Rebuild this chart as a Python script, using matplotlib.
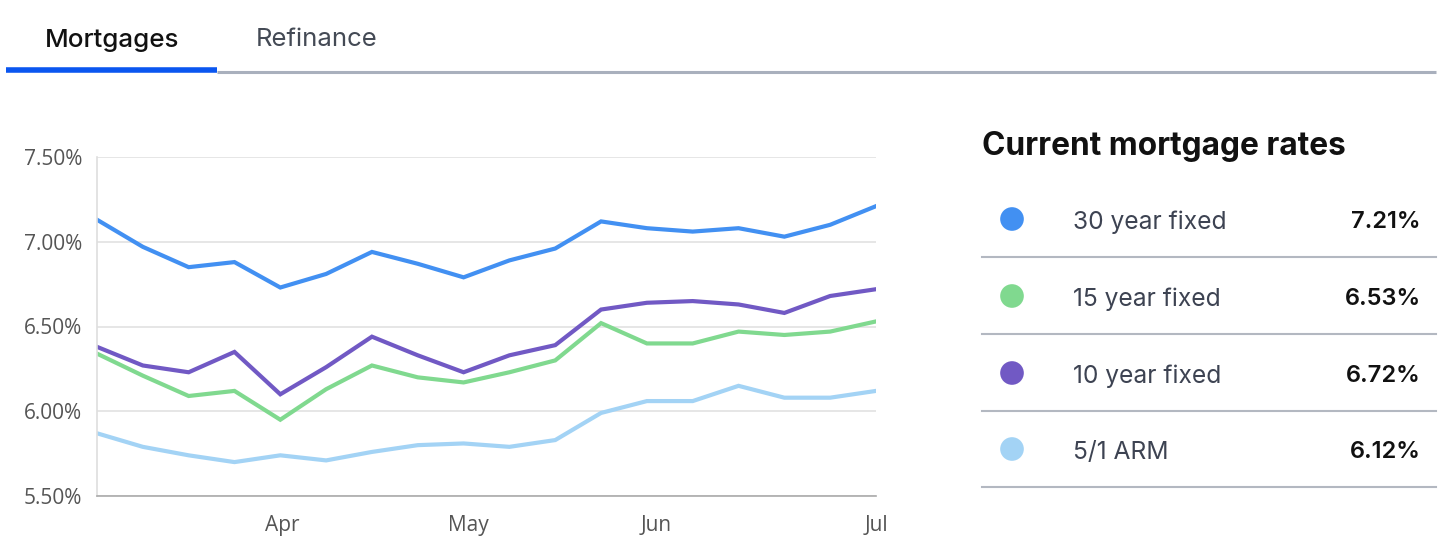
import matplotlib.pyplot as plt
import numpy as np

# Weekly rates (percent)
weeks = np.arange(18)
rate_30yr = [7.13, 6.97, 6.85, 6.88, 6.73, 6.81, 6.94, 6.87, 6.79, 6.89, 6.96, 7.12, 7.08, 7.06, 7.08, 7.03, 7.10, 7.21]
rate_15yr = [6.34, 6.21, 6.09, 6.12, 5.95, 6.13, 6.27, 6.20, 6.17, 6.23, 6.30, 6.52, 6.40, 6.40, 6.47, 6.45, 6.47, 6.53]
rate_10yr = [6.38, 6.27, 6.23, 6.35, 6.10, 6.26, 6.44, 6.33, 6.23, 6.33, 6.39, 6.60, 6.64, 6.65, 6.63, 6.58, 6.68, 6.72]
rate_arm = [5.87, 5.79, 5.74, 5.70, 5.74, 5.71, 5.76, 5.80, 5.81, 5.79, 5.83, 5.99, 6.06, 6.06, 6.15, 6.08, 6.08, 6.12]

month_ticks = [4.05, 8.1, 12.2, 17]
month_labels = ['Apr', 'May', 'Jun', 'Jul']
y_ticks = [5.5, 6.0, 6.5, 7.0, 7.5]

series_names = ['30 year fixed', '15 year fixed', '10 year fixed', '5/1 ARM']
current_rates = ['7.21%', '6.53%', '6.72%', '6.12%']
colors = ['#4290f2', '#80d98f', '#7159c4', '#a3d3f5']

fig = plt.figure(figsize=(14.56, 5.6), dpi=100)

# Line chart
ax = fig.add_axes([97 / 1456, 1 - 496 / 560, (876 - 97) / 1456, (496 - 157) / 560])
for vals, c in zip([rate_30yr, rate_15yr, rate_10yr, rate_arm], colors):
    ax.plot(weeks, vals, color=c, lw=3, solid_joinstyle='miter')

ax.set_xlim(0, 17)
ax.set_ylim(5.5, 7.5)
ax.set_yticks(y_ticks)
ax.set_yticklabels([f'{v:.2f}%' for v in y_ticks])
ax.set_xticks(month_ticks)
ax.set_xticklabels(month_labels)
ax.grid(axis='y', color='#e2e2e2', lw=1.2)
ax.set_axisbelow(True)
for side in ['top', 'right']:
    ax.spines[side].set_visible(False)
ax.spines['left'].set_color('#dedede')
ax.spines['bottom'].set_color('#aaaaaa')
ax.spines['left'].set_linewidth(1.2)
ax.spines['bottom'].set_linewidth(1.2)
ax.tick_params(length=0, colors='#555555')
ax.tick_params(axis='y', pad=10.5)
ax.tick_params(axis='x', pad=14)
for lab in ax.get_xticklabels() + ax.get_yticklabels():
    lab.set_family('Open Sans')
    lab.set_fontsize(15)

# Overlay in pixel coordinates for tabs and the rates panel
ov = fig.add_axes([0, 0, 1, 1])
ov.set_xlim(0, 1456)
ov.set_ylim(560, 0)
ov.axis('off')

ov.text(112, 40, 'Mortgages', ha='center', va='center', fontsize=18.7,
        family='Inter', weight='medium', color='#111111')
ov.text(317, 40, 'Refinance', ha='center', va='center', fontsize=18.5,
        family='Inter', color='#444a55')
ov.plot([217, 1436], [71.5, 71.5], color='#a9b0bd', lw=2.2, solid_capstyle='butt')
ov.plot([6, 217], [70, 70], color='#0a56f0', lw=4, solid_capstyle='butt')

ov.text(982, 146, 'Current mortgage rates', ha='left', va='center', fontsize=22.8,
        family='Inter', weight='bold', color='#111111')

row_y = [219, 296, 373, 449]
for y, name, rate, c in zip(row_y, series_names, current_rates, colors):
    ov.scatter([1012], [y], s=290, color=c, edgecolors='none')
    ov.text(1073, y + 3, name, ha='left', va='center', fontsize=17.7,
            family='Inter', color='#3d4352')
    ov.text(1421, y + 3, rate, ha='right', va='center', fontsize=17,
            family='Inter', weight='semibold', color='#111111')
    ov.plot([982, 1436], [y + 38, y + 38], color='#b3b8c1', lw=1.5)

fig.savefig('out.png', dpi=100)
